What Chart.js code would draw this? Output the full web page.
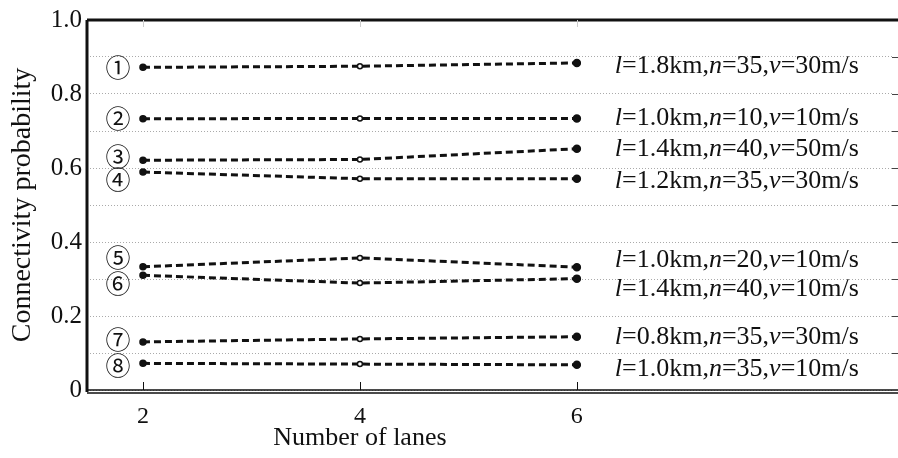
<!DOCTYPE html>
<html>
<head>
<meta charset="utf-8">
<script src="https://cdn.jsdelivr.net/npm/chart.js@4.4.1/dist/chart.umd.min.js"></script>
<style>
  html, body { margin: 0; padding: 0; background: #fff; overflow: hidden; }
  canvas { display: block; }
</style>
</head>
<body>
<canvas id="lanes" width="898" height="458"></canvas>
<script>
// x values (number of lanes)
var lanes = [2, 4, 6];

// connectivity probability per curve
var curve1 = [0.872, 0.875, 0.884];
var curve2 = [0.733, 0.734, 0.734];
var curve3 = [0.621, 0.623, 0.652];
var curve4 = [0.589, 0.571, 0.571];
var curve5 = [0.333, 0.357, 0.332];
var curve6 = [0.310, 0.289, 0.301];
var curve7 = [0.130, 0.138, 0.144];
var curve8 = [0.072, 0.070, 0.068];

// curve names
var marks = ['①', '②', '③', '④', '⑤', '⑥', '⑦', '⑧'];
var params = [
    'l=1.8km,n=35,v=30m/s',
    'l=1.0km,n=10,v=10m/s',
    'l=1.4km,n=40,v=50m/s',
    'l=1.2km,n=35,v=30m/s',
    'l=1.0km,n=20,v=10m/s',
    'l=1.4km,n=40,v=10m/s',
    'l=0.8km,n=35,v=30m/s',
    'l=1.0km,n=35,v=10m/s'
];

// tick labels
var xTicks = [2, 4, 6];
var yTicks = ['0', '', '0.2', '', '0.4', '', '0.6', '', '0.8', '', '1.0'];

var allCurves = [curve1, curve2, curve3, curve4, curve5, curve6, curve7, curve8];

// where the names sit (data units)
var markX = 1.77;
var markY = [0.872, 0.733, 0.632, 0.568, 0.357, 0.288, 0.136, 0.067];
var paramX = 6.35;
var paramY = [0.876, 0.736, 0.651, 0.565, 0.352, 0.272, 0.144, 0.056];

var serif = "'Liberation Serif', 'Times New Roman', serif";

var datasets = allCurves.map(function(c) {
    return {
        data: lanes.map(function(x, i) { return {x: x, y: c[i]}; }),
        borderColor: '#111',
        borderWidth: 3,
        borderDash: [7, 4],
        pointRadius: [3, 2.5, 3.5],
        pointBackgroundColor: ['#111', '#fff', '#111'],
        pointBorderColor: '#111',
        pointBorderWidth: 1.5,
        fill: false,
        tension: 0
    };
});

// draw the italic l, n, v
function drawParam(ctx, text, x, y) {
    var parts = text.split(/([lnv])(?==)/);
    var px = x;
    parts.forEach(function(p) {
        if (!p) return;
        var it = (p === 'l' || p === 'n' || p === 'v');
        ctx.font = (it ? 'italic ' : '') + '26px ' + serif;
        ctx.fillText(p, px, y);
        px += ctx.measureText(p).width;
    });
}

var decor = {
    id: 'decor',
    afterDraw: function(chart) {
        var ctx = chart.ctx;
        var a = chart.chartArea;
        var xs = chart.scales.x, ys = chart.scales.y;
        var right = chart.width;
        ctx.save();
        ctx.strokeStyle = '#111';
        // frame
        ctx.lineWidth = 3;
        ctx.beginPath();
        ctx.moveTo(a.left, a.top); ctx.lineTo(right, a.top);
        ctx.moveTo(a.left, a.top); ctx.lineTo(a.left, a.bottom + 2);
        ctx.stroke();
        ctx.lineWidth = 1.5;
        ctx.beginPath();
        ctx.moveTo(a.left, a.bottom); ctx.lineTo(right, a.bottom);
        ctx.moveTo(a.left, a.bottom + 3); ctx.lineTo(right, a.bottom + 3);
        ctx.stroke();
        // inward ticks
        ctx.lineWidth = 1;
        ctx.beginPath();
        xTicks.forEach(function(v) {
            var px = Math.round(xs.getPixelForValue(v)) + 0.5;
            ctx.moveTo(px, a.bottom); ctx.lineTo(px, a.bottom - 8);
        });
        ctx.stroke();
        ctx.strokeStyle = '#ccc';
        ctx.beginPath();
        xTicks.forEach(function(v) {
            var px = Math.round(xs.getPixelForValue(v)) + 0.5;
            ctx.moveTo(px, a.top); ctx.lineTo(px, a.top + 7);
        });
        ctx.stroke();
        ctx.strokeStyle = '#444';
        ctx.beginPath();
        for (var k = 1; k < 10; k++) {
            var py = Math.round(ys.getPixelForValue(k / 10)) + 0.5;
            ctx.moveTo(right - 6, py); ctx.lineTo(right, py);
        }
        ctx.stroke();
        // names
        ctx.fillStyle = '#111';
        ctx.textBaseline = 'middle';
        ctx.textAlign = 'center';
        ctx.font = "25px 'Noto Sans CJK SC', " + serif;
        marks.forEach(function(m, i) {
            ctx.fillText(m, xs.getPixelForValue(markX), ys.getPixelForValue(markY[i]));
        });
        ctx.textAlign = 'left';
        params.forEach(function(p, i) {
            drawParam(ctx, p, xs.getPixelForValue(paramX), ys.getPixelForValue(paramY[i]));
        });
        // x title
        ctx.textAlign = 'center';
        ctx.font = '26px ' + serif;
        ctx.fillText('Number of lanes', xs.getPixelForValue(4), 438);
        ctx.restore();
    }
};

new Chart(document.getElementById('lanes').getContext('2d'), {
    type: 'line',
    data: { datasets: datasets },
    options: {
        responsive: false,
        animation: false,
        layout: { padding: { top: 14, right: 0, left: 0, bottom: 0 } },
        plugins: { legend: { display: false }, tooltip: { enabled: false } },
        scales: {
            x: {
                type: 'linear',
                min: 1.484,
                max: 8.91,
                afterBuildTicks: function(s) { s.ticks = xTicks.map(function(v) { return {value: v}; }); },
                afterFit: function(s) { s.height = 68; },
                grid: { display: false },
                border: { display: false },
                ticks: { color: '#111', font: { family: serif, size: 24 }, padding: 4 }
            },
            y: {
                min: 0,
                max: 1,
                afterBuildTicks: function(s) {
                    var t = [];
                    for (var k = 0; k <= 10; k++) t.push({value: k / 10});
                    s.ticks = t;
                },
                afterFit: function(s) { s.width = 87; },
                grid: { color: '#aaa', lineWidth: 1, drawTicks: false },
                border: { display: false, dash: [1, 2] },
                title: { display: true, text: 'Connectivity probability', color: '#111', font: { family: serif, size: 28 }, padding: { top: 6, bottom: 0 } },
                ticks: {
                    color: '#111',
                    font: { family: serif, size: 25 },
                    padding: 5,
                    callback: function(v, i) { return yTicks[i]; }
                }
            }
        }
    },
    plugins: [decor]
});
</script>
</body>
</html>
